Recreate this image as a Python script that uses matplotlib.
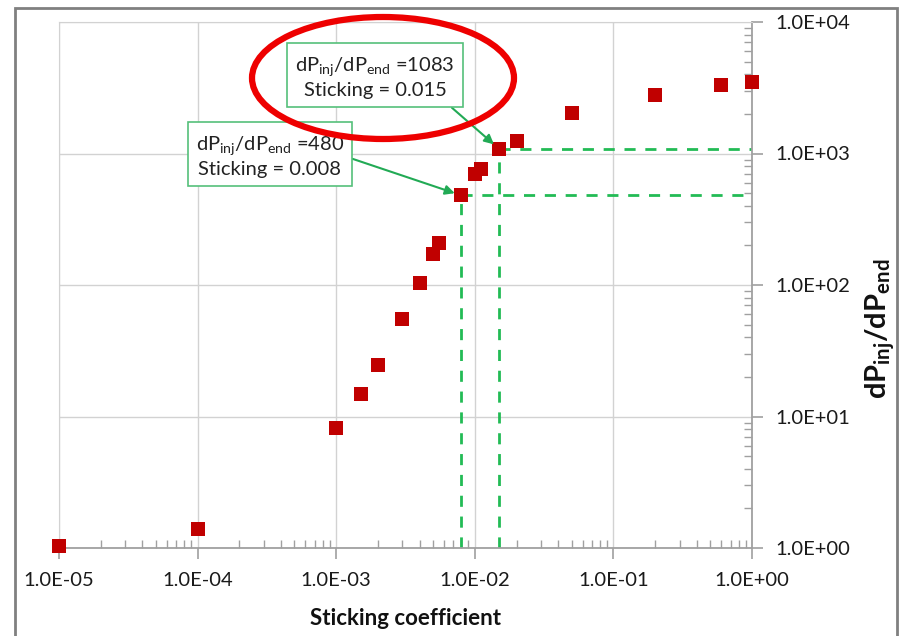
import matplotlib
matplotlib.use("Agg")
import matplotlib.pyplot as plt
from matplotlib.patches import Ellipse, Rectangle
from matplotlib.ticker import LogLocator, FixedLocator, NullFormatter
import numpy as np

# ---- data ----
sticking = [1e-5, 1e-4, 1e-3, 1.5e-3, 2e-3, 3e-3, 4e-3, 5e-3, 5.5e-3, 8e-3,
            1e-2, 1.1e-2, 1.5e-2, 2e-2, 5e-2, 2e-1, 6e-1, 1.0]
ratio = [1.04, 1.4, 8.2, 14.8, 24.6, 55, 104, 172, 209, 480,
         698, 762, 1083, 1245, 2030, 2790, 3320, 3500]
x_ticks = [1e-5, 1e-4, 1e-3, 1e-2, 1e-1, 1e0]
x_tick_labels = ["1.0E-05", "1.0E-04", "1.0E-03", "1.0E-02", "1.0E-01", "1.0E+00"]
y_ticks = [1e0, 1e1, 1e2, 1e3, 1e4]
y_tick_labels = ["1.0E+00", "1.0E+01", "1.0E+02", "1.0E+03", "1.0E+04"]
ann_pts = [(8e-3, 480), (1.5e-2, 1083)]
ann_texts = ["dP$\\mathregular{_{inj}}$/dP$\\mathregular{_{end}}$ =480\nSticking = 0.008",
             "dP$\\mathregular{_{inj}}$/dP$\\mathregular{_{end}}$ =1083\nSticking = 0.015"]

plt.rcParams['font.family'] = ['Lato', 'DejaVu Sans']

W, H = 903, 636
fig = plt.figure(figsize=(W / 100, H / 100), dpi=100)
ax = fig.add_axes([59 / W, 1 - 548 / H, (752 - 59) / W, (548 - 22) / H])

green = '#22bb55'
ax.set_xscale('log')
ax.set_yscale('log')
ax.set_xlim(1e-5, 1.0)
ax.set_ylim(1.0, 1e4)

ax.grid(True, which='major', color='#d2d2d2', lw=1.0, zorder=0)

# dashed guide lines
for (xv, yv) in ann_pts:
    ax.plot([xv, xv], [1.0, yv], ls=(0, (4, 3.5)), color=green, lw=2.0, zorder=2)
    ax.plot([xv, 1.0], [yv, yv], ls=(0, (4, 3.5)), color=green, lw=2.0, zorder=2)

ax.plot(sticking, ratio, 's', color='#c00000', markersize=9.5, markeredgewidth=0,
        zorder=4, clip_on=False)

# axes styling
for s in ['left', 'top']:
    ax.spines[s].set_color('#d2d2d2')
for s in ['bottom', 'right']:
    ax.spines[s].set_color('#a0a0a0')
    ax.spines[s].set_linewidth(1.3)

ax.yaxis.tick_right()
ax.xaxis.set_major_locator(FixedLocator(x_ticks))
ax.set_xticklabels(x_tick_labels)
ax.yaxis.set_major_locator(FixedLocator(y_ticks))
ax.set_yticklabels(y_tick_labels)
ax.xaxis.set_minor_locator(LogLocator(base=10, subs=np.arange(2, 10), numticks=20))
ax.yaxis.set_minor_locator(LogLocator(base=10, subs=np.arange(2, 10), numticks=20))
ax.xaxis.set_minor_formatter(NullFormatter())
ax.yaxis.set_minor_formatter(NullFormatter())
ax.tick_params(axis='both', which='major', direction='out', length=8, width=1.2,
               color='#a0a0a0', labelsize=14.5, labelcolor='#1a1a1a')
ax.tick_params(axis='both', which='minor', direction='in', length=6, width=1.0,
               color='#a0a0a0')
ax.tick_params(axis='x', which='major', pad=9)
ax.tick_params(axis='y', which='major', pad=9)

ax.set_xlabel('Sticking coefficient', fontsize=16, fontweight='bold', labelpad=14,
              color='#111111')
ax.yaxis.set_label_position('right')
ax.set_ylabel('dP$\\mathregular{_{inj}}$/dP$\\mathregular{_{end}}$', fontsize=21,
              fontweight='bold', color='#111111', va='center')
ax.yaxis.set_label_coords((880 - 59) / (752 - 59), 1 - (329 - 22) / (548 - 22))

# annotations
text_pos = [(270 / W, 1 - 156 / H), (375 / W, 1 - 77 / H)]
relposes = [(1.0, 0.5), (0.92, 0.0)]
for (pt, txt, tp, rp) in zip(ann_pts, ann_texts, text_pos, relposes):
    ax.annotate(txt, xy=pt, xycoords='data', xytext=tp, textcoords='figure fraction',
                ha='center', va='center', fontsize=14.5, color='#222222',
                linespacing=1.3, zorder=5,
                bbox=dict(boxstyle='square,pad=0.4', fc='white', ec='#55c07a', lw=1.2),
                arrowprops=dict(arrowstyle='-|>', color='#22aa55', lw=1.5,
                                mutation_scale=14, shrinkA=0, shrinkB=5, relpos=rp))

# red ellipse highlight
ell = Ellipse((383 / W, 1 - 78 / H), 262 / W, 122 / H, transform=fig.transFigure,
              fill=False, ec='#ee0000', lw=4.5, zorder=10)
fig.patches.append(ell)

# outer frame
frame = Rectangle((15 / W, -0.01), (897 - 15) / W, (636 - 8) / H + 0.01,
                  transform=fig.transFigure, fill=False, ec='#808080', lw=2)
fig.patches.append(frame)

fig.savefig('out.png', dpi=100)
